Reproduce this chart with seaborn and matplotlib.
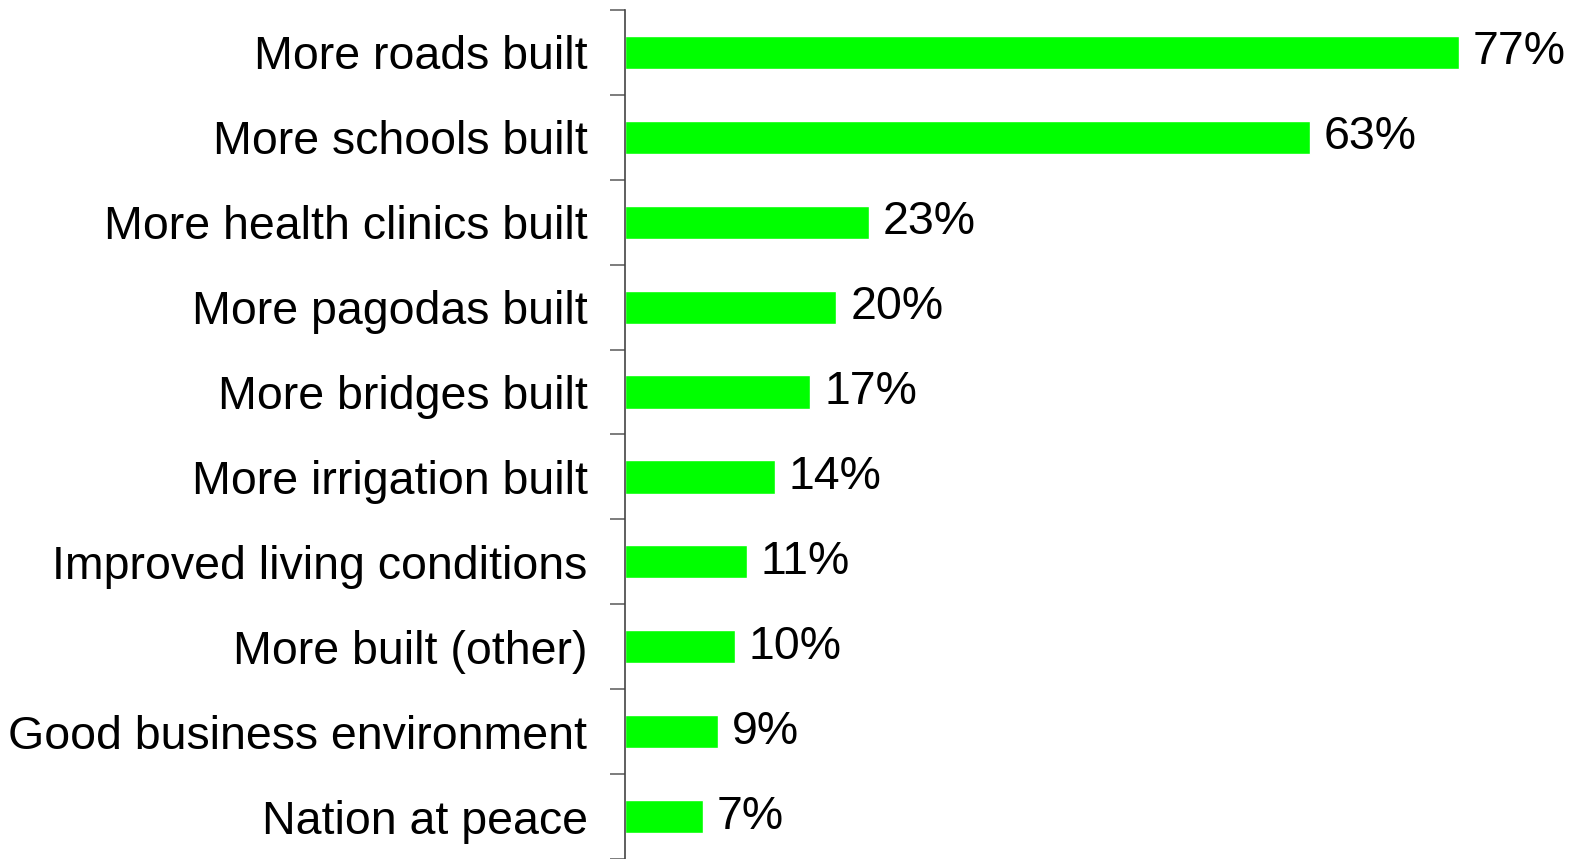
import numpy as np
import pandas as pd
import seaborn as sns
import matplotlib.pyplot as plt

categories = ["More roads built", "More schools built", "More health clinics built",
              "More pagodas built", "More bridges built", "More irrigation built",
              "Improved living conditions", "More built (other)",
              "Good business environment", "Nation at peace"]
values = [77.3, 63.5, 22.6, 19.6, 17.2, 13.9, 11.3, 10.2, 8.6, 7.2]
value_labels = ["77%", "63%", "23%", "20%", "17%", "14%", "11%", "10%", "9%", "7%"]

sns.set_style("white")
plt.rcParams['font.family'] = ['Liberation Sans', 'DejaVu Sans']

df = pd.DataFrame({"category": categories, "value": values})

fig = plt.figure(figsize=(15.74, 8.59), dpi=100)
ax = fig.add_axes([625/1574, 0.0, 1 - 625/1574, 1 - 10/859])

sns.barplot(data=df, x="value", y="category", color="#00FF00", width=0.39,
            saturation=1, ax=ax, orient="h")

ax.bar_label(ax.containers[0], labels=value_labels, padding=10, fontsize=33.5,
             color="black")

n = len(categories)
ax.set_xlim(0, 88)
ax.set_ylim(n - 0.5, -0.5)

# boundaries as major ticks, labels on minor ticks at centers
ax.set_yticks(np.arange(n + 1) - 0.5)
ax.set_yticklabels([])
ax.set_yticks(np.arange(n), minor=True)
ax.set_yticklabels(categories, minor=True, fontsize=33.5, color="black")
ax.tick_params(axis="y", which="major", direction="out", length=11, width=1.2,
               color="#666666", left=True)
ax.tick_params(axis="y", which="minor", length=0, pad=27)

ax.set_xticks([])
ax.set_xlabel("")
ax.set_ylabel("")
for side in ["top", "right", "bottom"]:
    ax.spines[side].set_visible(False)
ax.spines["left"].set_color("#444444")
ax.spines["left"].set_linewidth(1.2)

fig.savefig("out.png", dpi=100)
